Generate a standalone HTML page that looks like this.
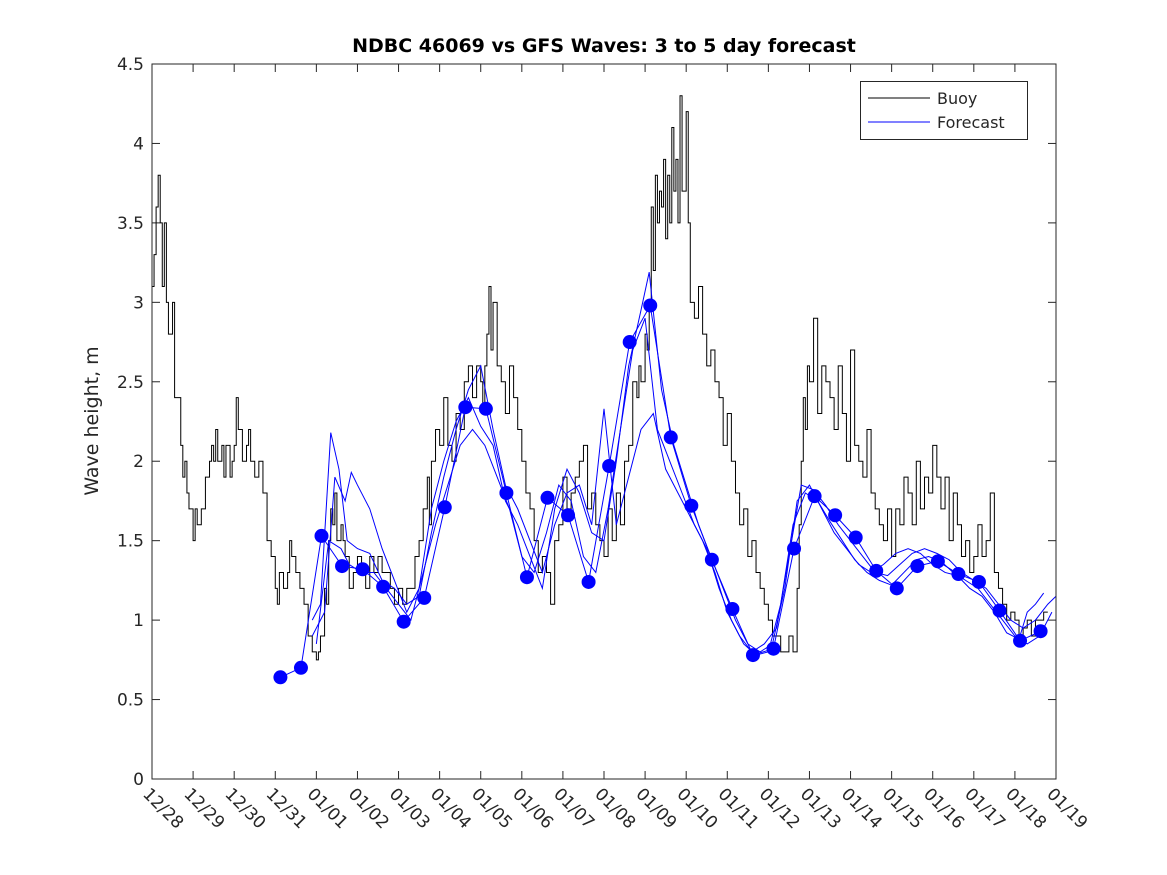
<!DOCTYPE html>
<html><head><meta charset="utf-8"><style>
html,body{margin:0;padding:0;background:#fff;}
svg{display:block;font-family:"DejaVu Sans","Liberation Sans",sans-serif;}
</style></head><body>
<svg id="chart" width="1167" height="875">
<rect width="1167" height="875" fill="#fff"/>
<text x="604" y="52" text-anchor="middle" font-size="19" font-weight="bold">NDBC 46069 vs GFS Waves: 3 to 5 day forecast</text>
<text transform="translate(98,421) rotate(-90)" text-anchor="middle" font-size="19" fill="#262626">Wave height, m</text>
<g id="axes"></g>
<g id="series"></g>
<rect x="152" y="64" width="904" height="715" fill="none" stroke="#262626" stroke-width="1"/>
<g>
<rect x="860.5" y="81.5" width="167" height="58" fill="#fff" stroke="#262626"/>
<line x1="868" y1="98" x2="930" y2="98" stroke="#000"/>
<text x="937" y="104" font-size="16" fill="#262626">Buoy</text>
<line x1="868" y1="122" x2="930" y2="122" stroke="#00f"/>
<text x="937" y="128" font-size="16" fill="#262626">Forecast</text>
</g>
</svg>
<script>
const xTickLabels=["12/28","12/29","12/30","12/31","01/01","01/02","01/03","01/04","01/05","01/06","01/07","01/08","01/09","01/10","01/11","01/12","01/13","01/14","01/15","01/16","01/17","01/18","01/19"];
const yTicks=[0,0.5,1,1.5,2,2.5,3,3.5,4,4.5];
const buoyDays=[0,0.05,0.1,0.15,0.2,0.25,0.3,0.35,0.4,0.5,0.55,0.6,0.7,0.75,0.8,0.85,0.9,1.0,1.05,1.1,1.2,1.3,1.4,1.45,1.5,1.55,1.6,1.7,1.75,1.8,1.9,1.95,2.0,2.05,2.1,2.2,2.3,2.35,2.4,2.5,2.6,2.7,2.8,2.9,3.0,3.05,3.1,3.2,3.3,3.35,3.4,3.5,3.6,3.7,3.8,3.9,4.0,4.05,4.1,4.2,4.25,4.3,4.35,4.4,4.45,4.5,4.6,4.65,4.7,4.8,4.9,5.0,5.1,5.2,5.3,5.4,5.5,5.6,5.7,5.8,5.9,6.0,6.1,6.2,6.3,6.4,6.5,6.6,6.7,6.75,6.8,6.9,7.0,7.1,7.2,7.3,7.4,7.5,7.6,7.7,7.8,7.9,8.0,8.05,8.1,8.15,8.2,8.25,8.3,8.4,8.5,8.6,8.7,8.8,8.9,9.0,9.1,9.2,9.3,9.4,9.5,9.6,9.7,9.8,9.9,10.0,10.1,10.2,10.3,10.4,10.5,10.6,10.7,10.8,10.9,11.0,11.1,11.2,11.3,11.4,11.5,11.6,11.7,11.8,11.85,11.9,12.0,12.05,12.1,12.15,12.2,12.25,12.3,12.35,12.4,12.45,12.5,12.55,12.6,12.65,12.7,12.75,12.8,12.85,12.9,13.0,13.05,13.1,13.2,13.3,13.4,13.5,13.6,13.7,13.8,13.9,14.0,14.1,14.2,14.3,14.4,14.5,14.6,14.7,14.8,14.9,15.0,15.1,15.2,15.3,15.4,15.5,15.6,15.7,15.75,15.8,15.85,15.9,15.95,16.0,16.1,16.2,16.3,16.4,16.5,16.6,16.7,16.8,16.9,17.0,17.1,17.2,17.3,17.4,17.5,17.6,17.7,17.8,17.9,18.0,18.1,18.2,18.3,18.4,18.5,18.6,18.7,18.8,18.9,19.0,19.1,19.2,19.3,19.4,19.5,19.6,19.7,19.8,19.9,20.0,20.1,20.2,20.3,20.4,20.5,20.6,20.7,20.8,20.9,21.0,21.1,21.2,21.3,21.4,21.5,21.6,21.7,21.8,21.9];
const buoyHeights=[3.1,3.3,3.6,3.8,3.5,3.1,3.5,3.0,2.8,3.0,2.4,2.4,2.1,1.9,2.0,1.8,1.7,1.5,1.7,1.6,1.7,1.9,2.0,2.1,2.0,2.2,2.0,2.1,1.9,2.1,1.9,2.0,2.1,2.4,2.2,2.0,2.1,2.2,2.0,1.9,2.0,1.8,1.5,1.4,1.2,1.1,1.3,1.2,1.3,1.5,1.4,1.3,1.2,1.1,0.9,0.8,0.75,0.8,0.9,1.2,1.1,1.5,1.7,1.6,1.8,1.5,1.6,1.5,1.4,1.2,1.3,1.4,1.3,1.2,1.4,1.3,1.4,1.3,1.3,1.2,1.1,1.2,1.1,1.2,1.2,1.4,1.5,1.7,1.9,1.6,2.0,2.2,2.1,2.4,2.1,2.0,2.3,2.2,2.5,2.6,2.4,2.6,2.5,2.3,2.6,2.8,3.1,2.7,3.0,2.6,2.5,2.3,2.6,2.4,2.2,2.0,1.8,1.7,1.5,1.3,1.4,1.3,1.1,1.5,1.6,1.9,1.7,1.8,1.9,2.0,2.1,1.7,1.8,1.6,1.5,1.4,1.7,1.5,1.8,1.6,2.0,2.1,2.5,2.4,2.6,2.5,2.8,2.7,3.0,3.6,3.2,3.8,3.5,3.7,3.6,3.9,3.4,3.8,3.5,4.1,3.7,3.9,3.5,4.3,3.7,4.2,3.5,3.0,2.9,3.1,2.8,2.6,2.7,2.5,2.4,2.1,2.3,2.0,1.8,1.6,1.7,1.4,1.5,1.3,1.2,1.1,1.0,0.9,0.9,0.8,0.8,0.9,0.8,1.2,1.6,2.0,2.4,2.2,2.6,2.5,2.9,2.3,2.6,2.5,2.4,2.2,2.6,2.3,2.0,2.7,2.1,2.0,1.9,2.2,1.8,1.7,1.6,1.5,1.7,1.4,1.7,1.6,1.9,1.8,1.6,2.0,1.7,1.9,1.8,2.1,1.9,1.7,1.9,1.5,1.8,1.6,1.4,1.5,1.3,1.4,1.6,1.4,1.5,1.8,1.3,1.2,1.1,1.0,1.05,1.0,0.9,0.95,1.0,0.9,1.0,1.0,1.05];
const dotDays=[3.125,3.625,4.125,4.625,5.125,5.625,6.125,6.625,7.125,7.625,8.125,8.625,9.125,9.625,10.125,10.625,11.125,11.625,12.125,12.625,13.125,13.625,14.125,14.625,15.125,15.625,16.125,16.625,17.125,17.625,18.125,18.625,19.125,19.625,20.125,20.625,21.125,21.625];
const dotHeights=[0.64,0.70,1.53,1.34,1.32,1.21,0.99,1.14,1.71,2.34,2.33,1.80,1.27,1.77,1.66,1.24,1.97,2.75,2.98,2.15,1.72,1.38,1.07,0.78,0.82,1.45,1.78,1.66,1.52,1.31,1.20,1.34,1.37,1.29,1.24,1.06,0.87,0.93];
const run1Days=[3.9,4.1,4.35,4.55,4.75,5.0,5.3,5.6,5.9,6.2,6.5,6.8,7.1,7.4,7.7,8.0,8.3,8.6,8.9,9.2,9.5,9.8,10.1,10.4,10.7,11.0,11.3,11.6,11.9,12.2,12.5,12.8,13.1,13.4,13.7,14.0,14.3,14.6,14.9,15.2,15.5,15.8,16.1,16.4,16.7,17.0,17.3,17.6,17.9,18.2,18.5,18.8,19.1,19.4,19.7,20.0,20.3,20.6,20.9,21.2,21.5,21.8,22.0];
const run1Vals=[1.0,1.1,2.18,1.95,1.5,1.45,1.42,1.25,1.2,1.1,1.15,1.55,1.9,2.2,2.45,2.6,2.2,1.85,1.7,1.5,1.3,1.6,1.8,1.85,1.6,2.33,1.6,1.9,2.2,2.3,1.95,1.8,1.65,1.5,1.3,1.05,0.9,0.8,0.85,0.95,1.4,1.85,1.82,1.72,1.6,1.5,1.4,1.3,1.28,1.35,1.42,1.45,1.42,1.38,1.3,1.25,1.2,1.1,1.0,0.95,1.0,1.1,1.15];
const run2Days=[3.9,4.2,4.45,4.7,4.85,5.0,5.3,5.6,5.9,6.2,6.5,6.8,7.1,7.4,7.7,8.0,8.3,8.6,8.9,9.2,9.5,9.8,10.1,10.4,10.7,11.0,11.3,11.6,11.9,12.1,12.4,12.7,13.0,13.3,13.6,13.9,14.2,14.5,14.8,15.1,15.4,15.7,16.0,16.3,16.6,16.9,17.2,17.5,17.8,18.1,18.4,18.7,19.0,19.3,19.6,19.9,20.2,20.5,20.8,21.1,21.3,21.5,21.7];
const run2Vals=[0.9,1.05,1.9,1.75,1.93,1.85,1.7,1.45,1.25,1.05,1.2,1.7,2.0,2.25,2.4,2.22,2.1,1.75,1.6,1.4,1.2,1.7,1.95,1.8,1.55,1.5,2.0,2.6,2.95,3.19,2.45,2.1,1.85,1.6,1.4,1.2,1.0,0.85,0.8,0.85,1.2,1.75,1.85,1.7,1.55,1.45,1.35,1.3,1.35,1.42,1.45,1.42,1.35,1.3,1.28,1.2,1.15,1.05,0.92,0.88,1.05,1.1,1.17];
const run3Days=[4.0,4.3,4.6,4.8,5.1,5.4,5.7,6.0,6.3,6.6,6.9,7.2,7.5,7.8,8.1,8.4,8.7,9.0,9.3,9.6,9.9,10.2,10.5,10.8,11.1,11.4,11.7,12.0,12.3,12.6,12.9,13.2,13.5,13.8,14.1,14.4,14.7,15.0,15.3,15.6,15.9,16.2,16.5,16.8,17.1,17.4,17.7,18.0,18.3,18.6,18.9,19.2,19.5,19.8,20.1,20.4,20.7,21.0,21.3,21.6,21.9];
const run3Vals=[0.85,1.5,1.45,1.35,1.3,1.3,1.2,1.1,1.0,1.3,1.6,1.85,2.1,2.2,2.1,1.9,1.7,1.4,1.3,1.55,1.85,1.75,1.4,1.3,1.7,2.2,2.7,2.9,2.2,2.0,1.8,1.6,1.45,1.2,1.0,0.85,0.78,0.8,1.1,1.6,1.8,1.75,1.62,1.5,1.38,1.3,1.25,1.22,1.3,1.38,1.4,1.37,1.3,1.25,1.2,1.1,1.0,0.9,0.85,0.9,1.05];

const X0=152,X1=1056,Y0=779,Y1=64,DMAX=22,VMAX=4.5;
const xs=d=>X0+(X1-X0)*d/DMAX;
const ys=v=>Y0-(Y0-Y1)*v/VMAX;
const NS="http://www.w3.org/2000/svg";
const axes=document.getElementById('axes');
const series=document.getElementById('series');
function mk(tag,attrs,parent){const e=document.createElementNS(NS,tag);for(const k in attrs)e.setAttribute(k,attrs[k]);parent.appendChild(e);return e;}

yTicks.forEach(v=>{
  const y=ys(v);
  const t1=mk('line',{x1:X0,x2:X0+8,y1:y,y2:y,stroke:'#262626'},axes);
  
  
  const t2=mk('line',{x1:X1-8,x2:X1,y1:y,y2:y,stroke:'#262626'},axes);
  
  
  const tx=mk('text',{x:X0-8,y:y+6,'text-anchor':'end','font-size':17,fill:'#262626'},axes);
  tx.textContent=String(v);
  
  
});
xTickLabels.forEach((lab,i)=>{
  const x=xs(i);
  const t1=mk('line',{x1:x,x2:x,y1:Y0,y2:Y0-8,stroke:'#262626'},axes);
  
  
  const t2=mk('line',{x1:x,x2:x,y1:Y1,y2:Y1+8,stroke:'#262626'},axes);
  
  
  const tx=mk('text',{transform:`translate(${x-10},${Y0+16}) rotate(45)`,'font-size':17,fill:'#262626'},axes);
  tx.textContent=lab;
  
  
});

let d='';
buoyDays.forEach((t,i)=>{
  const x=xs(t),y=ys(buoyHeights[i]);
  if(i===0)d+=`M${x},${y}`;else d+=`H${x}V${y}`;
});
const bp=mk('path',{d:d,fill:'none',stroke:'#000','stroke-width':1},series);



function line(days,vals,name){
  const p=mk('polyline',{points:days.map((t,i)=>xs(t)+','+ys(vals[i])).join(' '),fill:'none',stroke:'#00f','stroke-width':1},series);
  
  
}
line(run1Days,run1Vals,'forecast-run-1');
line(run2Days,run2Vals,'forecast-run-2');
line(run3Days,run3Vals,'forecast-run-3');
line(dotDays,dotHeights,'forecast-run-main');
dotDays.forEach((t,i)=>{
  const c=mk('circle',{cx:xs(t),cy:ys(dotHeights[i]),r:7,fill:'#00f'},series);
  
  
});
</script>
</body></html>
